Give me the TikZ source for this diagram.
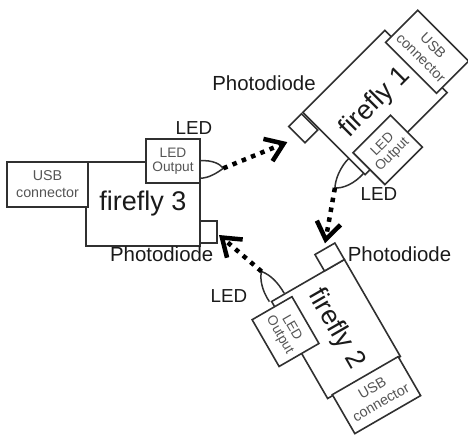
\documentclass[tikz,border=0pt]{standalone}
\usepackage{fontspec}
\setmainfont{Liberation Sans}
\usetikzlibrary{arrows.meta}
\definecolor{linec}{HTML}{303030}
\definecolor{boxtext}{HTML}{555555}
\definecolor{labeltc}{HTML}{1A1A1A}
\begin{document}
\begin{tikzpicture}[x=1pt,y=1pt,
  part/.style={draw=linec, line width=1.6pt, fill=white, inner sep=0pt, transform shape},
  bigtext/.style={font=\fontsize{27}{30}\selectfont, text=labeltc},
  usbtext/.style={font=\fontsize{14.3}{17}\selectfont, text=boxtext, align=center},
  ledtext/.style={font=\fontsize{13.7}{13.8}\selectfont, text=boxtext, align=center},
  ledlabel/.style={font=\fontsize{18.8}{20}\selectfont, text=labeltc, inner sep=0pt},
  pdlabel/.style={font=\fontsize{20.4}{22}\selectfont, text=labeltc, inner sep=0pt},
  bulbline/.style={draw=linec, line width=1.5pt, fill=white},
  beam/.style={line width=4.5pt, dash pattern=on 4.5pt off 5.5pt,
    -{Straight Barb[length=17pt, width=24pt, line width=4.5pt, sharp]}}
]
\useasboundingbox (0,0) rectangle (468,-434);

% ---------------- firefly 3 ----------------
\begin{scope}[shift={(143,-204)}]
  \path[bulbline] (57,43.3) .. controls (70,44) and (77,40) .. (80.3,35.7)
                  .. controls (74,31) and (66,26) .. (57,25.7);
  \coordinate (f3tip) at (80.3,35.7);
  \coordinate (f3target) at (76,-31);
  \node[part, minimum width=114pt, minimum height=84pt, bigtext] (f3body) at (0,0) {firefly 3};
  \node[part, minimum width=81pt, minimum height=45pt, usbtext] (f3usb) at (-95.5,19.5) {USB\\connector};
  \node[part, minimum width=54pt, minimum height=44pt, ledtext] (f3led) at (30,43) {LED\\Output};
  \node[part, minimum width=17pt, minimum height=22pt] (f3pd) at (65.5,-28) {};
\end{scope}
\node[ledlabel] (f3ledlab) at (194,-128.5) {LED};
\node[pdlabel] (f3pdlab) at (161.7,-254.5) {Photodiode};

% ---------------- firefly 1 ----------------
\begin{scope}[shift={(375,-102.5)}, rotate=225]
  \path[bulbline] (58,42) .. controls (72,43) and (84,38) .. (88.7,32)
                  .. controls (82,26) and (70,21) .. (58,21);
  \coordinate (f1tip) at (88.7,32);
  \coordinate (f1target) at (90,-34);
  \node[part, minimum width=116pt, minimum height=88pt, bigtext, rotate=-180] (f1body) at (0,0) {firefly 1};
  \node[part, minimum width=72pt, minimum height=45.5pt, usbtext, rotate=90] (f1usb) at (-72.75,1) {USB\\connector};
  \node[part, minimum width=53pt, minimum height=45pt, ledtext, rotate=-180] (f1led) at (24.5,42.5) {LED\\Output};
  \node[part, minimum width=18pt, minimum height=23pt] (f1pd) at (69,-32.5) {};
\end{scope}
\node[pdlabel] (f1pdlab) at (264,-83.5) {Photodiode};
\node[ledlabel] (f1ledlab) at (379,-194) {LED};

% ---------------- firefly 2 ----------------
\begin{scope}[shift={(336,-329)}, rotate=120]
  \path[bulbline] (57,44) .. controls (70,45) and (82,41) .. (87,35.7)
                  .. controls (80,30) and (70,27) .. (57,27);
  \coordinate (f2tip) at (87,35.7);
  \coordinate (f2target) at (79.7,-33.3);
  \node[part, minimum width=112pt, minimum height=84pt, bigtext, rotate=-180] (f2body) at (0,0) {firefly 2};
  \node[part, minimum width=76pt, minimum height=45pt, usbtext, rotate=-90] (f2usb) at (-77.5,-2) {USB\\connector};
  \node[part, minimum width=54pt, minimum height=46pt, ledtext, rotate=-180] (f2led) at (23,45) {LED\\Output};
  \node[part, minimum width=19pt, minimum height=23pt] (f2pd) at (65.5,-30.5) {};
\end{scope}
\node[pdlabel] (f2pdlab) at (399.5,-254) {Photodiode};
\node[ledlabel] (f2ledlab) at (229,-296.5) {LED};

% ---------------- light beams ----------------
\draw[beam] (f3tip) -- (f1target);
\draw[beam] (f1tip) -- (f2target);
\draw[beam] (f2tip) -- (f3target);
\end{tikzpicture}
\end{document}
